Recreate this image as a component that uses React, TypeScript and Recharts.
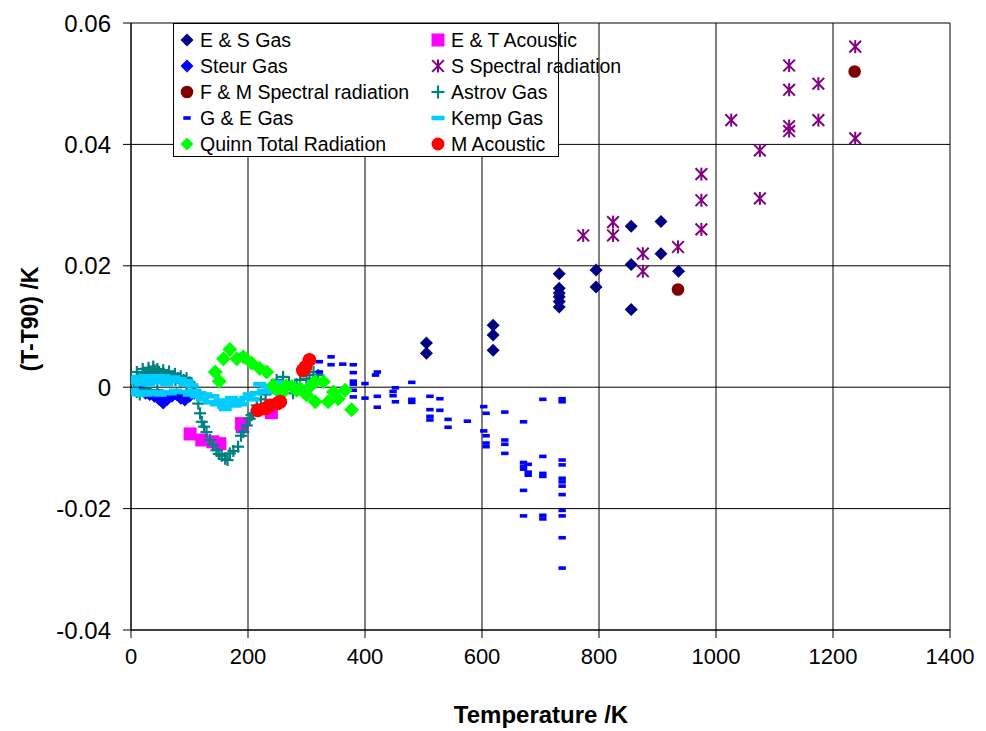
import {
  ScatterChart,
  Scatter,
  XAxis,
  YAxis,
  CartesianGrid,
  Legend,
} from "recharts";

type Pt = [number, number];

const X_TICKS = [0, 200, 400, 600, 800, 1000, 1200, 1400];
const Y_TICKS = [-0.04, -0.02, 0, 0.02, 0.04, 0.06];

const ES_GAS: Pt[] = [
  [505, 0.0073], [505, 0.0056], [619, 0.0102], [619, 0.0086], [619, 0.0061],
  [732, 0.0187], [732, 0.0163], [732, 0.0155], [732, 0.0149], [732, 0.0141],
  [732, 0.0132], [795, 0.0193], [795, 0.0165], [855, 0.0265], [855, 0.0202],
  [855, 0.0128], [906, 0.0273], [906, 0.022], [936, 0.0191],
];

const ET_ACOUSTIC: Pt[] = [
  [101, -0.0077], [121, -0.0087], [140, -0.009], [152, -0.0093],
  [189, -0.006], [190, -0.0065], [240, -0.0042],
];

const STEUR_GAS: Pt[] = [
  [18, -0.0005], [25, -0.001], [32, -0.0012], [40, -0.0015], [48, -0.002],
  [55, -0.0026], [62, -0.002], [70, -0.0015], [78, -0.0012], [85, -0.0018],
  [92, -0.0021], [100, -0.0015], [108, -0.001],
];

const S_SPECTRAL: Pt[] = [
  [773, 0.025], [824, 0.0272], [824, 0.025], [875, 0.022], [875, 0.0191],
  [935, 0.0231], [975, 0.026], [975, 0.0308], [975, 0.0351], [1026, 0.044],
  [1075, 0.039], [1075, 0.0311], [1125, 0.053], [1125, 0.049], [1125, 0.043],
  [1125, 0.0422], [1175, 0.05], [1175, 0.044], [1238, 0.0561], [1238, 0.041],
];

const FM_SPECTRAL: Pt[] = [
  [935, 0.0161], [1237, 0.052],
];

const ASTROV_GAS: Pt[] = [
  [5, 0.0005], [8, 0.001], [10, 0.0025], [10, -0.0008], [12, 0.0015],
  [15, -0.0012], [18, 0.0015], [20, 0.003], [22, 0.002], [25, 0.0022],
  [25, -0.0003], [28, 0.0018], [30, 0.0032], [32, 0.0025], [36, 0.002],
  [38, 0.0034], [40, 0.0028], [44, 0.0022], [45, 0.003], [45, -0.0005],
  [48, 0.0025], [52, 0.002], [55, 0.0028], [56, 0.0022], [60, 0.0018],
  [64, 0.002], [65, 0.0026], [68, 0.0015], [72, 0.0018], [75, 0.0022],
  [76, 0.0012], [80, 0.0015], [85, 0.001], [85, 0.0018], [90, 0.0012],
  [95, 0.0005], [95, 0.0015], [100, 0.0008], [105, 0.0002], [110, -0.0005],
  [115, -0.0027], [118, -0.0043], [121, -0.0057], [125, -0.0065], [129, -0.0074],
  [135, -0.0087], [140, -0.0095], [146, -0.0104], [150, -0.011], [155, -0.0113],
  [161, -0.0118], [165, -0.012], [169, -0.0109], [175, -0.0105], [183, -0.0098],
  [188, -0.008], [192, -0.0074], [198, -0.0063], [203, -0.0052], [206, -0.0046],
  [209, -0.0043], [215, -0.003], [222, -0.002], [230, -0.0012], [240, 0.0],
  [249, 0.0012], [260, 0.0017], [270, 0.0008], [277, -0.001], [283, 0.0005],
  [289, 0.0012], [300, 0.0014], [305, 0.002], [312, 0.0025], [320, 0.002],
];

const GE_GAS: Pt[] = [
  [322, 0.0042], [322, 0.0025], [342, 0.005], [342, 0.0037], [362, 0.0038],
  [380, 0.0037], [380, 0.0024], [380, 0.001], [380, 0.0005], [380, -0.0005],
  [380, -0.0016], [400, 0.0006], [400, -0.0018], [418, 0.002], [421, 0.0025],
  [421, -0.0015], [421, -0.0033], [448, -0.0007], [452, -0.0001], [448, -0.0014],
  [452, -0.0024], [480, 0.0008], [480, -0.002], [480, -0.0025], [511, -0.0015],
  [511, -0.0037], [511, -0.0048], [511, -0.0054], [528, -0.0019], [528, -0.0038],
  [542, -0.0053], [542, -0.0066], [575, -0.0056], [603, -0.0032], [607, -0.0043],
  [603, -0.0072], [607, -0.008], [607, -0.0092], [607, -0.0098], [639, -0.0041],
  [639, -0.0087], [639, -0.0094], [639, -0.0109], [671, -0.0057], [671, -0.0124],
  [671, -0.013], [671, -0.0135], [679, -0.0127], [679, -0.014], [679, -0.0145],
  [671, -0.017], [671, -0.0212], [704, -0.002], [704, -0.0114], [704, -0.0142],
  [704, -0.0147], [704, -0.0211], [704, -0.0217], [737, -0.0019], [737, -0.0024],
  [737, -0.012], [737, -0.0128], [737, -0.015], [737, -0.0156], [737, -0.0163],
  [737, -0.0177], [737, -0.0203], [737, -0.0212], [737, -0.0248], [737, -0.0298],
];

const KEMP_GAS: Pt[] = [
  [3, 0.0012], [3, -0.0005], [6, 0.0015], [8, -0.001], [10, 0.0008], [12, 0.0017],
  [14, -0.0012], [16, 0.0005], [18, 0.0015], [20, -0.0008], [22, 0.001], [25, 0.0018],
  [27, -0.0012], [30, 0.0005], [32, 0.0015], [35, -0.0008], [38, 0.0012], [40, 0.0018],
  [43, -0.001], [46, 0.0008], [48, 0.0016], [50, -0.0012], [53, 0.0012], [56, 0.0018],
  [58, -0.0008], [61, 0.0005], [64, 0.0014], [67, -0.001], [70, 0.0012], [73, 0.0016],
  [76, -0.0006], [80, 0.001], [84, 0.0013], [88, -0.0008], [92, 0.0005], [96, 0.001],
  [100, -0.0012], [104, 0.0003], [108, -0.0006], [112, -0.0015], [118, -0.001],
  [122, -0.002], [128, -0.0012], [134, -0.0025], [140, -0.0015], [146, -0.0028],
  [152, -0.0022], [158, -0.0032], [161, -0.0036], [166, -0.0025], [172, -0.0018],
  [178, -0.003], [184, -0.0022], [190, -0.0028], [196, -0.0018], [202, -0.0012],
  [208, -0.002], [214, -0.001], [220, 0.0005], [226, -0.0006], [232, 0.0002],
  [238, -0.0008], [244, 0.0], [250, 0.0008], [256, -0.0003], [262, 0.0006],
  [268, -0.0002],
];

const QUINN_RADIATION: Pt[] = [
  [144, 0.0025], [151, 0.001], [158, 0.0047], [169, 0.0062], [181, 0.0047],
  [192, 0.005], [206, 0.004], [220, 0.0031], [232, 0.0025], [243, 0.0003],
  [250, -0.0005], [258, -0.001], [265, 0.0002], [275, 0.0001], [283, -0.0005],
  [289, -0.0002], [300, -0.0013], [308, 0.0003], [315, -0.0024], [315, 0.0009],
  [329, 0.0009], [337, -0.0024], [346, -0.0008], [354, -0.0019], [366, -0.0005],
  [377, -0.0037],
];

const M_ACOUSTIC: Pt[] = [
  [217, -0.0038], [230, -0.0035], [237, -0.003], [250, -0.0027],
  [255, -0.0024], [294, 0.0028], [298, 0.0033], [305, 0.0045],
];

const FONT = "'Liberation Sans', Arial, sans-serif";

type MarkerKind = "diamond" | "circle" | "square" | "dash" | "plus" | "star";

type MarkerProps = { kind: MarkerKind; cx: number; cy: number; color: string; r: number; h?: number };

const Marker = ({ kind, cx, cy, color, r, h = 2 }: MarkerProps) => {
  if (kind === "diamond") {
    return (
      <polygon
        points={`${cx},${cy - r} ${cx + r},${cy} ${cx},${cy + r} ${cx - r},${cy}`}
        fill={color}
      />
    );
  }
  if (kind === "circle") return <circle cx={cx} cy={cy} r={r} fill={color} />;
  if (kind === "square") {
    return <rect x={cx - r} y={cy - r} width={2 * r} height={2 * r} fill={color} />;
  }
  if (kind === "dash") {
    return <rect x={cx - r} y={cy - h} width={2 * r} height={2 * h} fill={color} />;
  }
  if (kind === "plus") {
    return (
      <g stroke={color} strokeWidth={2.2}>
        <line x1={cx - r} y1={cy} x2={cx + r} y2={cy} />
        <line x1={cx} y1={cy - r} x2={cx} y2={cy + r} />
      </g>
    );
  }
  // X with a vertical bar, Excel's star marker
  const d = r * 0.9;
  return (
    <g stroke={color} strokeWidth={2}>
      <line x1={cx - d} y1={cy - d} x2={cx + d} y2={cy + d} />
      <line x1={cx + d} y1={cy - d} x2={cx - d} y2={cy + d} />
      <line x1={cx} y1={cy - r} x2={cx} y2={cy + r} />
    </g>
  );
};

type Series = {
  name: string;
  data: Pt[];
  kind: MarkerKind;
  color: string;
  r: number;
  h?: number;
};

// drawing order = Excel series order
const SERIES: Series[] = [
  { name: "E & S Gas", data: ES_GAS, kind: "diamond", color: "#000080", r: 6.5 },
  { name: "E & T Acoustic", data: ET_ACOUSTIC, kind: "square", color: "#FF00FF", r: 6.5 },
  { name: "Steur Gas", data: STEUR_GAS, kind: "diamond", color: "#0000FF", r: 6.5 },
  { name: "S Spectral radiation", data: S_SPECTRAL, kind: "star", color: "#800080", r: 6.5 },
  { name: "F & M Spectral radiation", data: FM_SPECTRAL, kind: "circle", color: "#800000", r: 6.3 },
  { name: "Astrov Gas", data: ASTROV_GAS, kind: "plus", color: "#008080", r: 6 },
  { name: "G & E Gas", data: GE_GAS, kind: "dash", color: "#0000FF", r: 3.7, h: 1.8 },
  { name: "Kemp Gas", data: KEMP_GAS, kind: "dash", color: "#00CCFF", r: 6.5, h: 2.3 },
  { name: "Quinn Total Radiation", data: QUINN_RADIATION, kind: "diamond", color: "#00FF00", r: 7.5 },
  { name: "M Acoustic", data: M_ACOUSTIC, kind: "circle", color: "#FF0000", r: 7 },
];

const LEGEND_R = [6.5, 6.5, 6.5, 6.5, 6.3, 6.5, 3.7, 6.5, 6.5, 6.5];

const LegendBox = () => (
  <div
    style={{
      width: 386,
      height: 134,
      boxSizing: "border-box",
      border: "1px solid #000",
      background: "#fff",
      position: "relative",
      fontFamily: FONT,
      fontSize: 19.5,
      color: "#000",
    }}
  >
    {SERIES.map((s, i) => {
      const col = i % 2;
      const row = Math.floor(i / 2);
      return (
        <div
          key={s.name}
          style={{
            position: "absolute",
            left: col === 0 ? 4 : 255,
            top: 3 + row * 26,
            height: 26,
            display: "flex",
            alignItems: "center",
            whiteSpace: "nowrap",
          }}
        >
          <svg width={18} height={18} style={{ marginRight: 4 }}>
            <Marker kind={s.kind} cx={9} cy={9} color={s.color} r={LEGEND_R[i]} h={s.h} />
          </svg>
          <span>{s.name}</span>
        </div>
      );
    })}
  </div>
);

const fmtY = (v: number) => (Math.abs(v) < 1e-9 ? "0" : v.toFixed(2));

const App: React.FC = () => {
  return (
    <ScatterChart
      width={970}
      height={723}
      margin={{ top: 15, right: 28, left: 0, bottom: 0 }}
      style={{ background: "#fff" }}
    >
      <CartesianGrid stroke="#000" strokeWidth={1} horizontalValues={Y_TICKS} verticalValues={X_TICKS} />
      <XAxis
        type="number"
        dataKey="x"
        domain={[0, 1400]}
        ticks={X_TICKS}
        height={101}
        tickSize={8}
        tickMargin={10}
        stroke="#000"
        tick={{ fill: "#000", fontSize: 22, fontFamily: FONT }}
        allowDataOverflow
        label={() => (
          <text
            x={533}
            y={715}
            textAnchor="middle"
            fontFamily={FONT}
            fontWeight="bold"
            fontSize={24}
            fill="#000"
          >
            Temperature /K
          </text>
        )}
      />
      <YAxis
        type="number"
        dataKey="y"
        domain={[-0.04, 0.06]}
        ticks={Y_TICKS}
        width={123}
        tickSize={8}
        tickMargin={12}
        stroke="#000"
        tickFormatter={fmtY}
        tick={{ fill: "#000", fontSize: 24, fontFamily: FONT }}
        allowDataOverflow
        label={() => (
          <text
            x={0}
            y={0}
            transform="translate(30, 311) rotate(-90)"
            textAnchor="middle"
            fontFamily={FONT}
            fontWeight="bold"
            fontSize={23}
            fill="#000"
          >
            (T-T90) /K
          </text>
        )}
      />
      <Legend
        layout="horizontal"
        verticalAlign="middle"
        align="center"
        content={() => <LegendBox />}
        wrapperStyle={{ position: "absolute", left: 165, top: 15, width: 386, height: 134 }}
      />
      {SERIES.map((s) => (
        <Scatter
          key={s.name}
          name={s.name}
          data={s.data.map(([x, y]) => ({ x, y }))}
          fill={s.color}
          isAnimationActive={false}
          shape={(p: any) => (
            <Marker kind={s.kind} cx={p.cx} cy={p.cy} color={s.color} r={s.r} h={s.h} />
          )}
        />
      ))}
    </ScatterChart>
  );
};

export default App;
